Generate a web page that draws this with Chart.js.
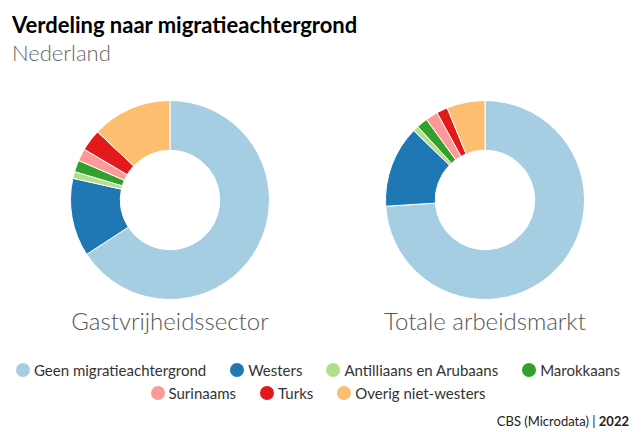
<!DOCTYPE html>
<html>
<head>
<meta charset="utf-8">
<script src="https://cdn.jsdelivr.net/npm/chart.js"></script>
<style>
  body { margin:0; width:641px; height:432px; background:#fff; font-family: Lato, "Noto Sans", sans-serif; position:relative; overflow:hidden; }
  #titel { position:absolute; left:12px; top:11px; font-size:22px; font-weight:bold; color:#000; }
  #sub { position:absolute; left:12px; top:39px; font-size:22px; font-weight:300; color:#666; }
  .box { position:absolute; top:100px; width:200px; height:200px; }
  .lbl { position:absolute; top:306px; width:300px; text-align:center; font-size:24px; font-weight:300; color:#555; }
  #legenda { position:absolute; left:0; top:361px; width:636px; display:flex; flex-wrap:wrap; justify-content:center; column-gap:24px; row-gap:5px; font-size:15px; color:#333; }
  #legenda span.item { display:flex; align-items:center; }
  #legenda i { display:inline-block; width:14px; height:14px; border-radius:50%; margin-right:4px; }
  #bron { position:absolute; right:12px; top:413px; font-size:13px; color:#222; }
</style>
</head>
<body>
<div id="titel">Verdeling naar migratieachtergrond</div>
<div id="sub">Nederland</div>
<div class="box" style="left:70px"><canvas id="links"></canvas></div>
<div class="box" style="left:385px"><canvas id="rechts"></canvas></div>
<div class="lbl" style="left:20px">Gastvrijheidssector</div>
<div class="lbl" style="left:335px">Totale arbeidsmarkt</div>
<div id="legenda"></div>
<div id="bron">CBS (Microdata) | <b>2022</b></div>
<script>
var categorieen = ["Geen migratieachtergrond","Westers","Antilliaans en Arubaans","Marokkaans","Surinaams","Turks","Overig niet-westers"];
var gastvrijheid = [65.8, 12.7, 1.1, 1.9, 2.0, 3.5, 13.0];
var arbeidsmarkt = [74.0, 13.3, 0.9, 1.8, 2.0, 1.8, 6.2];
var kleuren = ["#a6cee3","#1f78b4","#b2df8a","#33a02c","#fb9a99","#e31a1c","#fdbf6f"];

function maakDonut(id, waarden){
    var ctx = document.getElementById(id).getContext('2d');
    return new Chart(ctx, {
        type: "doughnut",
        data: {
            labels: categorieen,
            datasets: [{ data: waarden, backgroundColor: kleuren, borderColor: "#fff", borderWidth: 1 }]
        },
        options: {
            responsive: true,
            maintainAspectRatio: false,
            animation: false,
            cutout: "50%",
            layout: { padding: 0 },
            plugins: { legend: { display: false }, tooltip: { enabled: false } }
        }
    });
}
maakDonut("links", gastvrijheid);
maakDonut("rechts", arbeidsmarkt);

var leg = document.getElementById("legenda");
for (let i = 0; i < categorieen.length; i++) {
    var s = document.createElement("span");
    s.className = "item";
    s.innerHTML = '<i style="background:' + kleuren[i] + '"></i>' + categorieen[i];
    leg.appendChild(s);
}
</script>
</body>
</html>
